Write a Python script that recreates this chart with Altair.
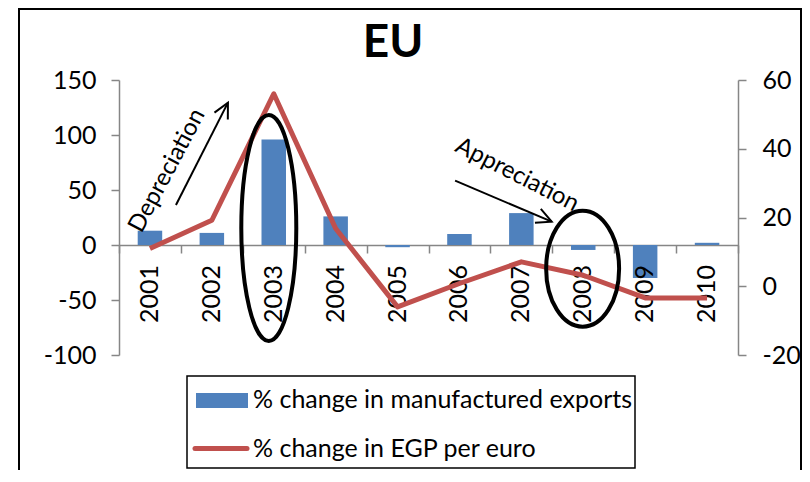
import altair as alt
import pandas as pd

# ---- chart data ----
years = ["2001", "2002", "2003", "2004", "2005", "2006", "2007", "2008", "2009", "2010"]
exports_change = [13, 11, 96, 26, -2, 10, 29, -4.5, -30, 2]          # left axis
egp_change = [11, 19.2, 56, 16.8, -6, 0.8, 7.1, 3.2, -3.4, -3.4]     # right axis

left_ticks = [-100, -50, 0, 50, 100, 150]
right_ticks = [-20, 0, 20, 40, 60]

title_text = "EU"
legend_labels = ["% change in manufactured exports", "% change in EGP per euro"]

# ---- annotations, in data units (x: year position, y: left-axis units) ----
ellipse_x = [2002.92, 2007.99]
ellipse_y = [15.5, -21.5]
arrow_x1 = [2001.42, 2005.93]
arrow_y1 = [36.4, 58.5]
arrow_x2 = [2002.26, 2007.49]
arrow_y2 = [129.4, 21.2]
arrow_angle = [27, 113]
note_text = ["Depreciation", "Appreciation"]
note_x = [2001.28, 2006.93]
note_y = [67.5, 63.6]
note_angle = [298, 27]

BLUE = "#4F81BD"
RED = "#C0504D"
GRAY = "#868686"
FONT = "Lato"
FS = 25

W, H = 619, 275

df = pd.DataFrame({"year": years, "exports": exports_change, "egp": egp_change})

xband = alt.Scale(type="band", paddingInner=0, paddingOuter=0)
xpoint = alt.Scale(type="point", padding=0.5)
left_scale = alt.Scale(domain=[-100, 150], nice=False, zero=False)
ax_scale = alt.Scale(domain=[2000.5, 2010.5], nice=False, zero=False)
ay_scale = alt.Scale(domain=[-100, 150], nice=False, zero=False)

label_expr = "datum.value + ''"

bars = alt.Chart(df).mark_bar(size=24.5, color=BLUE).encode(
    x=alt.X("year:O", scale=xband, title=None,
            axis=alt.Axis(offset=-110, labels=False, tickBand="extent", tickExtra=True,
                          tickSize=8, tickColor=GRAY, tickWidth=1.5,
                          domainColor=GRAY, domainWidth=1.5, grid=False)),
    y=alt.Y("exports:Q", scale=left_scale, title=None,
            axis=alt.Axis(orient="left", values=left_ticks, tickSize=8, tickColor=GRAY, tickWidth=1.5,
                          domainColor=GRAY, domainWidth=1.5, labelFont=FONT, labelFontSize=FS,
                          labelColor="black", labelPadding=15, grid=False, labelExpr=label_expr)),
)

year_labels = alt.Chart(df).transform_calculate(zero="0").mark_text(
    angle=270, align="right", baseline="middle", yOffset=20, font=FONT, fontSize=FS, color="black"
).encode(
    x=alt.X("year:O", scale=xpoint, axis=None),
    y=alt.Y("zero:Q", scale=left_scale, axis=None),
    text="year:N",
)

line = alt.Chart(df).mark_line(color=RED, strokeWidth=5, strokeJoin="round").encode(
    x=alt.X("year:O", scale=xpoint, axis=None),
    y=alt.Y("egp:Q", scale=alt.Scale(domain=[-20, 60], nice=False, zero=False), title=None,
            axis=alt.Axis(orient="right", values=right_ticks, tickSize=8, tickColor=GRAY, tickWidth=1.5,
                          domainColor=GRAY, domainWidth=1.5, labelFont=FONT, labelFontSize=FS,
                          labelColor="black", labelPadding=16, grid=False, labelExpr=label_expr)),
)

layers = [bars, year_labels, line]

# ellipses (custom symbol paths, sized in pixels)
ellipse_shapes = [
    ("M 0 -1 A 0.2434 1 0 1 1 0 1 A 0.2434 1 0 1 1 0 -1 Z", 226 ** 2),
    ("M 0 -1 A 0.629 1 0 1 1 0 1 A 0.629 1 0 1 1 0 -1 Z", 116 ** 2),
]
for i, (path, sz) in enumerate(ellipse_shapes):
    e = alt.Chart(pd.DataFrame({"x": [ellipse_x[i]], "y": [ellipse_y[i]]})).mark_point(
        shape=path, size=sz, filled=False, stroke="black", strokeWidth=4, opacity=1
    ).encode(x=alt.X("x:Q", scale=ax_scale, axis=None), y=alt.Y("y:Q", scale=ay_scale, axis=None))
    layers.append(e)

arrows_df = pd.DataFrame({"x1": arrow_x1, "y1": arrow_y1, "x2": arrow_x2, "y2": arrow_y2})
arrow_lines = alt.Chart(arrows_df).mark_rule(color="black", strokeWidth=2).encode(
    x=alt.X("x1:Q", scale=ax_scale, axis=None), x2="x2:Q",
    y=alt.Y("y1:Q", scale=ay_scale, axis=None), y2="y2:Q",
)
layers.append(arrow_lines)

for i in range(2):
    head = alt.Chart(pd.DataFrame({"x": [arrow_x2[i]], "y": [arrow_y2[i]]})).mark_point(
        shape="M -0.5 1 L 0 0 L 0.5 1", size=900, angle=arrow_angle[i], filled=False,
        stroke="black", strokeWidth=2, opacity=1
    ).encode(x=alt.X("x:Q", scale=ax_scale, axis=None), y=alt.Y("y:Q", scale=ay_scale, axis=None))
    layers.append(head)
    note = alt.Chart(pd.DataFrame({"x": [note_x[i]], "y": [note_y[i]], "t": [note_text[i]]})).mark_text(
        font=FONT, fontSize=24, angle=note_angle[i], align="center", baseline="middle", color="black"
    ).encode(x=alt.X("x:Q", scale=ax_scale, axis=None), y=alt.Y("y:Q", scale=ay_scale, axis=None), text="t:N")
    layers.append(note)

one = alt.Data(values=[{"a": 1}])

# title
layers.append(alt.Chart(one).mark_text(font=FONT, fontSize=46, fontWeight="bold", align="center",
                                       baseline="alphabetic", color="black").encode(
    x=alt.value(274), y=alt.value(-23), text=alt.value(title_text)))

# legend box and entries
layers.append(alt.Chart(one).mark_rect(fill="white", stroke="black", strokeWidth=1.5).encode(
    x=alt.value(68), x2=alt.value(516), y=alt.value(296), y2=alt.value(388)))
layers.append(alt.Chart(one).mark_rect(fill=BLUE).encode(
    x=alt.value(77), x2=alt.value(129), y=alt.value(313), y2=alt.value(328)))
layers.append(alt.Chart(one).mark_rule(color=RED, strokeWidth=5, strokeCap="round").encode(
    x=alt.value(76), x2=alt.value(128), y=alt.value(368.5)))
layers.append(alt.Chart(one).mark_text(font=FONT, fontSize=FS, align="left", baseline="alphabetic",
                                       color="black").encode(
    x=alt.value(134), y=alt.value(328), text=alt.value(legend_labels[0])))
layers.append(alt.Chart(one).mark_text(font=FONT, fontSize=FS, align="left", baseline="alphabetic",
                                       color="black").encode(
    x=alt.value(134), y=alt.value(376.5), text=alt.value(legend_labels[1])))

# outer chart-area border
layers.append(alt.Chart(one).mark_rect(fill=None, stroke="black", strokeWidth=2).encode(
    x=alt.value(-100), x2=alt.value(682), y=alt.value(-71), y2=alt.value(420)))

chart = alt.layer(*layers).resolve_scale(x="independent", y="independent").properties(
    width=W, height=H,
    autosize=alt.AutoSizeParams(type="none"),
    padding={"left": 111, "top": 72, "right": 64, "bottom": 115},
    background="white",
).configure_view(stroke=None)

chart.save("out.html", embed_options={"renderer": "svg", "actions": False})
